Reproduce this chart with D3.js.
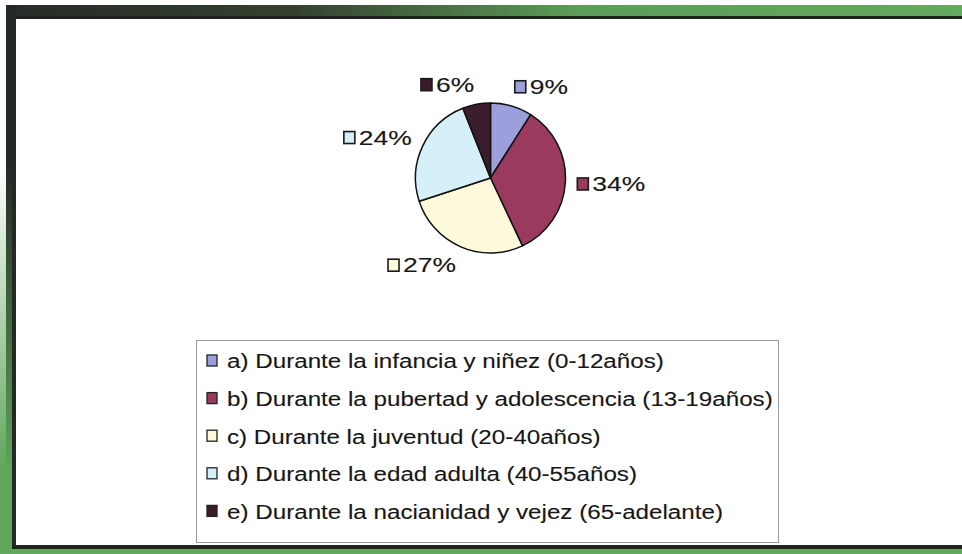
<!DOCTYPE html>
<html>
<head>
<meta charset="utf-8">
<script src="https://cdn.jsdelivr.net/npm/d3@7"></script>
<style>
  html, body { margin:0; padding:0; background:#fff; }
  svg { display:block; }
  text { font-family:"Liberation Sans", Arial, sans-serif; fill:#161616; stroke:#161616; stroke-width:0.12px; }
</style>
</head>
<body>
<svg id="chart" width="962" height="554"></svg>
<script>
/* data */
const categories = [
  'a) Durante la infancia y niñez (0-12años)',
  'b) Durante la pubertad y adolescencia (13-19años)',
  'c) Durante la juventud (20-40años)',
  'd) Durante la edad adulta (40-55años)',
  'e) Durante la nacianidad y vejez (65-adelante)'
];
const values = [9, 34, 27, 24, 6];
const palette = ['#9c9fdc', '#9b3a5f', '#fcfadb', '#d5f0f8', '#3a1c2b'];

const W = 962, H = 554;
const cx = 490.5, cy = 178, R = 75;
const LBL_R = R + 12, LBL_FS = 20.5, LBL_SX = 1.29;
const LEG = { x:196, y:340, w:582, h:202, row0:360.5, step:37.6, fs:21, sx:1.152 };
const SQ = 11, SQH = 12, GAP = 4;

const svg = d3.select('#chart');
const defs = svg.append('defs');

// scanned frame: dark edge top-left, green round the rest
const gTop = defs.append('linearGradient').attr('id','gTop');
gTop.append('stop').attr('offset','0').attr('stop-color','#272b27');
gTop.append('stop').attr('offset','0.3').attr('stop-color','#34402f');
gTop.append('stop').attr('offset','0.6').attr('stop-color','#5c9d57');
gTop.append('stop').attr('offset','1').attr('stop-color','#64a960');
const gLeft = defs.append('linearGradient').attr('id','gLeft')
  .attr('x1',0).attr('y1',0).attr('x2',0).attr('y2',1);
gLeft.append('stop').attr('offset','0.3').attr('stop-color','#5fa55b').attr('stop-opacity',0);
gLeft.append('stop').attr('offset','0.85').attr('stop-color','#5fa55b').attr('stop-opacity',1);

svg.append('rect').attr('width',W).attr('height',H).attr('fill','#fff');
svg.append('rect').attr('x',6).attr('y',5).attr('width',W-6).attr('height',12).attr('fill','url(#gTop)');
svg.append('rect').attr('x',6).attr('y',16).attr('width',W-6).attr('height',3).attr('fill','#1f231e');
svg.append('rect').attr('x',6).attr('y',5).attr('width',10).attr('height',H-5).attr('fill','#252925');
svg.append('rect').attr('x',0).attr('y',0).attr('width',12).attr('height',H).attr('fill','url(#gLeft)');
svg.append('rect').attr('x',12).attr('y',545).attr('width',W-12).attr('height',4).attr('fill','#1f231e');
svg.append('rect').attr('x',0).attr('y',549).attr('width',W).attr('height',5).attr('fill','#62a75e');

const color = d3.scaleOrdinal().domain(categories).range(palette);

const pie = d3.pie().sort(null).value(d => d.value);
const arc = d3.arc().innerRadius(0).outerRadius(R);
const arcs = pie(categories.map((c, i) => ({ cat:c, value:values[i] })));

const gPie = svg.append('g').attr('transform', 'translate(' + cx + ',' + cy + ')');
gPie.selectAll('path').data(arcs).enter().append('path')
  .attr('d', arc)
  .attr('fill', d => color(d.data.cat))
  .attr('stroke', '#111').attr('stroke-width', 1.5).attr('stroke-linejoin','round');

// outside labels, square key + percent, aligned away from the pie
arcs.forEach(d => {
  const a = (d.startAngle + d.endAngle) / 2;
  const s = Math.sin(a), c = Math.cos(a);
  const px = cx + LBL_R * s;
  const py = cy - LBL_R * c - 8 * c;
  const g = svg.append('g');
  const t = g.append('g');
  const txt = t.append('text').attr('font-size', LBL_FS).text(d.data.value + '%');
  const tw = txt.node().getComputedTextLength() * LBL_SX;
  const bw = SQ + GAP + tw;
  const left = s >= 0 ? px : px - bw;
  g.append('rect').attr('x', left).attr('y', py - SQH / 2).attr('width', SQ).attr('height', SQH)
    .attr('fill', color(d.data.cat)).attr('stroke', '#1a1a1a').attr('stroke-width', 1.6);
  t.attr('transform', 'translate(' + (left + SQ + GAP) + ',' + (py + 7.3) + ') scale(' + LBL_SX + ',1)');
});

// legend
const gLeg = svg.append('g');
gLeg.append('rect').attr('x', LEG.x + 0.5).attr('y', LEG.y + 0.5).attr('width', LEG.w).attr('height', LEG.h)
  .attr('fill', 'none').attr('stroke', '#9a9a9a').attr('stroke-width', 1);
categories.forEach((cat, i) => {
  const yc = LEG.row0 + i * LEG.step;
  gLeg.append('rect').attr('x', LEG.x + 11).attr('y', yc - 5.5).attr('width', 10).attr('height', 11)
    .attr('fill', color(cat)).attr('stroke', '#222').attr('stroke-width', 1.3);
  gLeg.append('g').attr('transform', 'translate(' + (LEG.x + 31) + ',' + (yc + 7.8) + ') scale(' + LEG.sx + ',1)')
    .append('text').attr('font-size', LEG.fs).text(cat);
});
</script>
</body>
</html>
